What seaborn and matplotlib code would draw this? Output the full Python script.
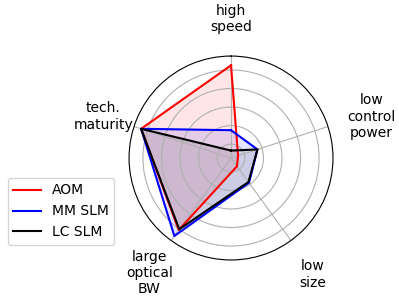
import numpy as np
import pandas as pd
import matplotlib
matplotlib.use("Agg")
import matplotlib.pyplot as plt
import matplotlib.transforms as mtransforms
import seaborn as sns

categories = ["high\nspeed", "low\ncontrol\npower", "low\nsize", "large\noptical\nBW", "tech.\nmaturity"]
aom = [5.25, 0.65, 0.8, 5.05, 5.35]
mm_slm = [1.75, 1.75, 1.9, 5.45, 5.35]
lc_slm = [0.65, 1.75, 1.85, 5.0, 5.35]

series = {"AOM": aom, "MM SLM": mm_slm, "LC SLM": lc_slm}
colors = {"AOM": "red", "MM SLM": "blue", "LC SLM": "black"}

plt.rcParams["font.family"] = ["DejaVu Sans"]

angles = np.linspace(0, 2 * np.pi, len(categories), endpoint=False)
closed = np.concatenate([angles, angles[:1]])

fig = plt.figure(figsize=(3.99, 3.03), dpi=100)
ax = fig.add_axes([0.323, 0.142, 0.512, 0.673], polar=True)
ax.set_theta_offset(np.pi / 2)
ax.set_theta_direction(-1)

for name, vals in series.items():
    r = np.concatenate([vals, vals[:1]])
    df = pd.DataFrame({"theta": closed, "r": r})
    sns.lineplot(data=df, x="theta", y="r", sort=False, estimator=None,
                 color=colors[name], linewidth=1.5, label=name, ax=ax)
    ax.fill(closed, r, color=colors[name], alpha=0.1)

ax.set_ylim(0.25, 5.75)
ax.set_yticks([1, 2, 3, 4, 5])
ax.set_yticklabels([])
ax.set_xticks(angles)
ax.set_xticklabels(categories, fontsize=10)
ax.tick_params(axis="x", pad=16)
ax.set_xlabel("")
ax.set_ylabel("")
ax.grid(True, color="#b0b0b0", linewidth=0.8)

# nudge a few labels so they sit like the original
nudges = {1: (6, -1), 2: (0, -3), 3: (0, -2), 4: (3, -1)}
for i, lab in enumerate(ax.get_xticklabels()):
    if i in nudges:
        dx, dy = nudges[i]
        off = mtransforms.ScaledTranslation(dx / 72, dy / 72, fig.dpi_scale_trans)
        lab.set_transform(lab.get_transform() + off)

ax.legend(loc="lower left", bbox_to_anchor=(-0.63, 0.04), fontsize=10)

fig.savefig("out.png", dpi=100)
